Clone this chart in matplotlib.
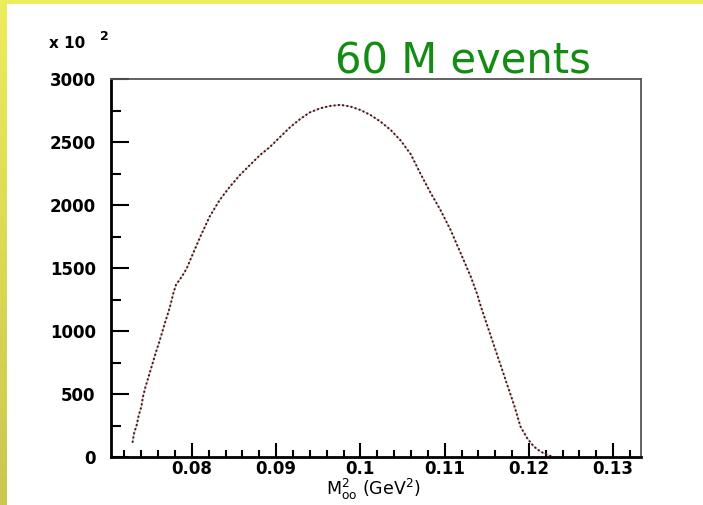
"""
M_oo^2 distribution (60 M events), ROOT-style dotted histogram
"""
import matplotlib
matplotlib.use('Agg')
import matplotlib.pyplot as plt
from matplotlib.patches import Rectangle
from matplotlib.ticker import FixedLocator, MultipleLocator
import numpy as np

# data (y in units of 10^2 events)
mass2 = [0.07295, 0.07314, 0.07345, 0.0737, 0.0740, 0.0742, 0.0745, 0.0751,
         0.0757, 0.0762, 0.0768, 0.0774, 0.0778, 0.0781, 0.0788, 0.0794,
         0.0798, 0.0810, 0.0821, 0.0833, 0.0845, 0.0857, 0.0869, 0.0881,
         0.0893, 0.0905, 0.0917, 0.0929, 0.0940, 0.0952, 0.0964, 0.0976,
         0.0988, 0.1000, 0.1012, 0.1024, 0.1036, 0.1048, 0.1060, 0.1071,
         0.1083, 0.1095, 0.1107, 0.1119, 0.1131, 0.1139, 0.1143, 0.1151,
         0.1159, 0.1167, 0.1175, 0.1183, 0.1190, 0.1198, 0.1206, 0.1214,
         0.1222, 0.1228]
counts = [114, 188, 254, 333, 400, 479, 558, 690,
          825, 929, 1063, 1193, 1299, 1365, 1431, 1498,
          1563, 1749, 1907, 2040, 2145, 2238, 2318, 2397,
          2463, 2542, 2620, 2685, 2735, 2767, 2786, 2795,
          2782, 2754, 2714, 2661, 2595, 2510, 2400, 2252,
          2100, 1960, 1802, 1617, 1431, 1285, 1193, 1034,
          876, 717, 558, 399, 241, 148, 82, 42,
          16, 3]

x_ticks = [0.08, 0.09, 0.10, 0.11, 0.12, 0.13]
x_tick_labels = ['0.08', '0.09', '0.1', '0.11', '0.12', '0.13']
y_ticks = [0, 500, 1000, 1500, 2000, 2500, 3000]

W, H = 703, 505
fig = plt.figure(figsize=(W / 100, H / 100), dpi=100)
fig.patch.set_facecolor('white')
plt.rcParams['mathtext.fontset'] = 'dejavusans'

# yellow slide border (left strip with a slight gradient, top strip)
band = fig.add_axes([0, 0, 6 / W, 1])
grad = np.linspace(0, 1, 256)[:, None, None]
top_c = np.array([236, 236, 92]) / 255
bot_c = np.array([200, 200, 78]) / 255
band.imshow(top_c * (1 - grad) + bot_c * grad, aspect='auto', extent=[0, 1, 0, 1])
band.axis('off')
fig.patches.append(Rectangle((0, 1 - 4 / H), 1, 4 / H, transform=fig.transFigure,
                             facecolor='#ecec5c', edgecolor='none', zorder=5))

ax = fig.add_axes([111 / W, (H - 457) / H, 530 / W, 378 / H])
ax.plot(mass2, counts, color='#d84a4a', lw=0.8, alpha=0.45)
ax.plot(mass2, counts, color='#2a1c1c', lw=1.4, ls=(0, (1, 1.2)))

ax.set_xlim(0.0704, 0.1333)
ax.set_ylim(0, 3000)

ax.xaxis.set_major_locator(FixedLocator(x_ticks))
ax.set_xticklabels(x_tick_labels)
ax.xaxis.set_minor_locator(MultipleLocator(0.002))
ax.yaxis.set_major_locator(FixedLocator(y_ticks))
ax.yaxis.set_minor_locator(MultipleLocator(250))

ax.tick_params(which='both', direction='in', color='black', width=1.5)
ax.tick_params(axis='x', which='major', length=10, pad=2)
ax.tick_params(axis='x', which='minor', length=5)
ax.tick_params(axis='y', which='major', length=13, pad=11)
ax.tick_params(axis='y', which='minor', length=7)
for lbl in ax.get_xticklabels() + ax.get_yticklabels():
    lbl.set_fontweight('bold')
    lbl.set_fontsize(12)
    lbl.set_family('DejaVu Sans')

for side in ['left', 'bottom']:
    ax.spines[side].set_linewidth(2)
for side in ['top', 'right']:
    ax.spines[side].set_linewidth(1.3)
    ax.spines[side].set_color('#555555')

# axis title placed by its baseline so the subscript stays inside the figure
ax.set_xlabel(r'M$_{\mathrm{oo}}^{2}$ (GeV$^{2}$)', fontsize=12.5)
ax.xaxis.label.set_va('baseline')
ax.xaxis.set_label_coords(0.495, -0.101)

# axis multiplier
fig.text(49 / W, 1 - 48 / H, 'x 10', fontsize=11, fontweight='bold', ha='left', va='baseline')
fig.text(100 / W, 1 - 40 / H, '2', fontsize=9, fontweight='bold', ha='left', va='baseline')

fig.text(463 / W, 1 - 74 / H, '60 M events', fontsize=30, color='#128c12',
         ha='center', va='baseline')

fig.savefig('out.png', dpi=100, facecolor='white')
plt.close(fig)
